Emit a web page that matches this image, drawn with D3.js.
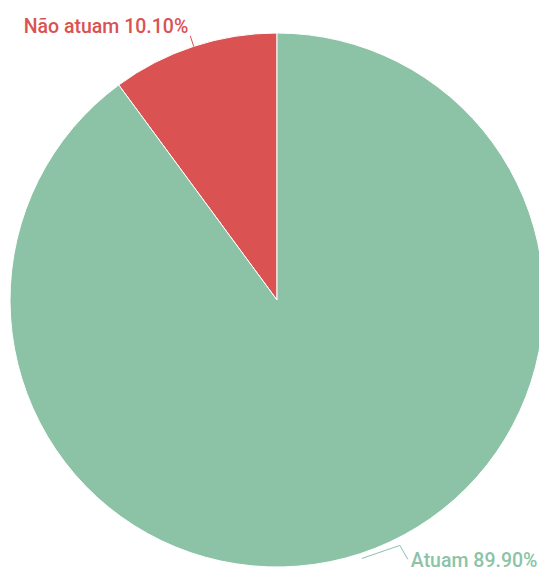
<!DOCTYPE html>
<html>
<head>
<meta charset="utf-8">
<script src="https://cdn.jsdelivr.net/npm/d3@7"></script>
<style>
  html, body { margin: 0; padding: 0; background: #fff; }
  svg { display: block; }
</style>
</head>
<body>
<div id="chart"></div>
<script>
// data
const categories = ['Não atuam', 'Atuam']
const values = [10.10, 89.90]
const colors = ['#da5252', '#8cc3a7']

var width = 539, height = 571
var cx = 277, cy = 300, radius = 267

var svg = d3.select('#chart').append('svg')
  .attr('width', width)
  .attr('height', height)

var g = svg.append('g').attr('transform', 'translate(' + cx + ',' + cy + ')')

// counter-clockwise from 12 o'clock
var pie = d3.pie().sort(null).value(d => d).startAngle(0).endAngle(-2 * Math.PI)
var arc = d3.arc().innerRadius(0).outerRadius(radius)
var arcs = pie(values)

g.selectAll('path.slice')
  .data(arcs)
  .enter().append('path')
  .attr('class', 'slice')
  .attr('d', arc)
  .attr('fill', (d, i) => colors[i])
  .attr('stroke', '#fff')
  .attr('stroke-width', 1)

// point at angle a, radius r (d3 angles: 0 = up, clockwise positive)
function pt(a, r) { return [r * Math.sin(a), -r * Math.cos(a)] }

// label for the small slice: short radial leader, text right-aligned at its end
var a0 = (arcs[0].startAngle + arcs[0].endAngle) / 2
var s0 = pt(a0, radius), e0 = pt(a0, radius + 11)
g.append('polyline')
  .attr('points', [s0, e0].map(p => p.join(',')).join(' '))
  .attr('fill', 'none').attr('stroke', colors[0]).attr('stroke-width', 1)
g.append('text')
  .attr('x', e0[0] - 2).attr('y', e0[1] - 3)
  .attr('text-anchor', 'end')
  .attr('font-family', 'Roboto, sans-serif')
  .attr('font-size', 19.5).attr('font-weight', 500)
  .attr('fill', colors[0])
  .text(categories[0] + ' ' + values[0].toFixed(2) + '%')

// label for the big slice
var a1 = (arcs[1].startAngle + arcs[1].endAngle) / 2
var s1 = pt(a1, radius + 5)
var m1 = [s1[0] + 38, s1[1] - 13]
var e1 = [s1[0] + 46, s1[1] + 1]
g.append('polyline')
  .attr('points', [s1, m1, e1].map(p => p.join(',')).join(' '))
  .attr('fill', 'none').attr('stroke', colors[1]).attr('stroke-width', 1)
g.append('text')
  .attr('x', e1[0] + 3).attr('y', e1[1] + 8)
  .attr('text-anchor', 'start')
  .attr('font-family', 'Roboto, sans-serif')
  .attr('font-size', 19.5).attr('font-weight', 500)
  .attr('fill', colors[1])
  .text(categories[1] + ' ' + values[1].toFixed(2) + '%')
</script>
</body>
</html>
